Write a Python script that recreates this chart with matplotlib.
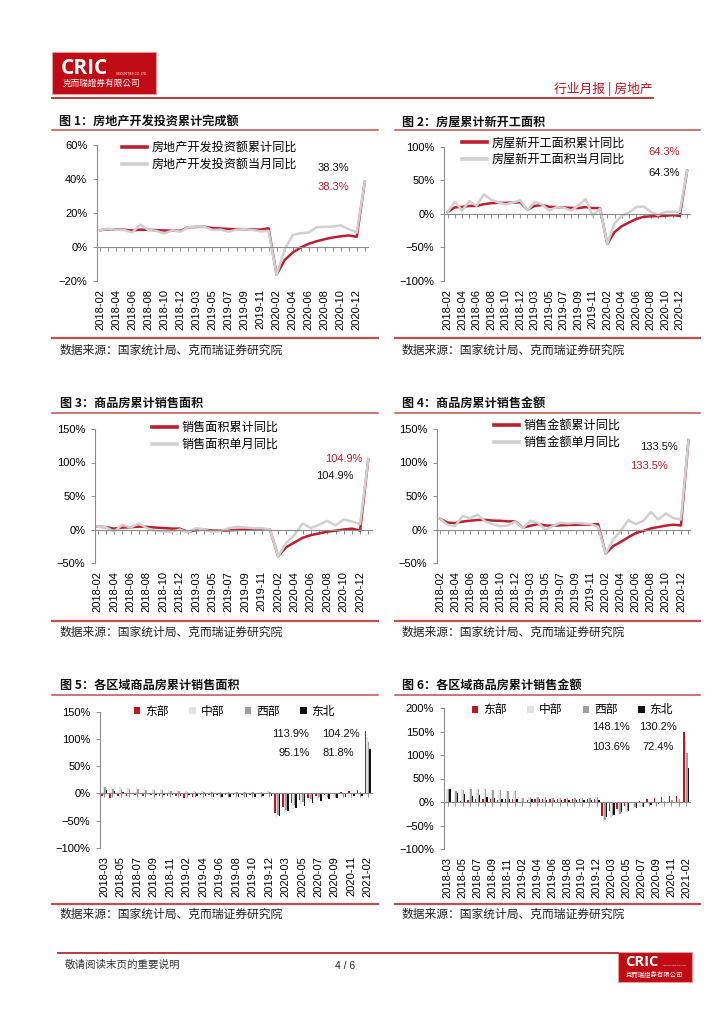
import numpy as np
import matplotlib
matplotlib.use("Agg")
import matplotlib.pyplot as plt
from matplotlib.lines import Line2D
from matplotlib.patches import Rectangle, Patch

plt.rcParams['font.family'] = ['Liberation Sans', 'Noto Sans CJK SC']
plt.rcParams['axes.unicode_minus'] = True

# ---------------- data ----------------
months_a = [f"{y}-{m:02d}" for y in (2018, 2019, 2020) for m in range(2, 13)] + ["2021-02"]
tick_a = [months_a[i] for i in range(0, 33, 2)]          # labels shown
months_b = [f"2018-{m:02d}" for m in range(3, 13)] + \
           [f"{y}-{m:02d}" for y in (2019, 2020) for m in range(2, 13)] + ["2021-02"]

inv_cum = [9.9, 10.4, 10.3, 10.2, 9.7, 10.2, 10.1, 9.9, 9.7, 9.7, 9.5,
           11.6, 11.8, 11.9, 11.2, 10.9, 10.6, 10.5, 10.5, 10.3, 10.2, 11.0,
           -16.3, -7.7, -3.3, -0.3, 1.9, 3.4, 4.6, 5.6, 6.3, 6.8, 6.0,
           38.3]
inv_mon = [9.9, 10.7, 10.1, 10.0, 8.5, 13.2, 10.0, 9.5, 8.0, 9.8, 9.0,
           11.6, 12.0, 11.9, 10.0, 10.2, 9.0, 10.2, 10.5, 10.0, 9.2, 9.5,
           -16.3, -1.5, 7.0, 8.1, 8.5, 11.7, 11.8, 12.0, 12.7, 10.5, 8.5,
           38.3]

ns_cum = [2.9, 9.7, 10.3, 11.8, 11.8, 14.4, 15.9, 16.4, 16.3, 16.8, 17.2,
          6.0, 11.9, 13.1, 10.5, 10.1, 9.5, 8.9, 8.6, 10.0, 8.6, 8.5,
          -44.9, -27.2, -18.4, -12.8, -7.6, -4.5, -3.6, -3.4, -2.8, -2.0, -3.0,
          64.3]
ns_mon = [2.9, 18.0, 5.0, 19.0, 12.0, 29.0, 21.0, 17.0, 14.0, 17.0, 20.0,
          5.0, 18.0, 14.0, 5.0, 10.0, 9.0, 5.0, 12.0, 22.0, -3.0, 8.0,
          -44.9, -14.0, -3.0, 2.0, 10.0, 11.0, 3.0, -2.0, 3.0, 3.0, 3.0,
          64.3]

sa_cum = [4.1, 3.6, 1.3, 2.9, 3.3, 4.2, 4.0, 2.9, 2.2, 1.4, 1.3,
          -3.6, -0.9, -0.3, -1.6, -1.8, -1.3, -0.6, -0.1, 0.1, 0.2, -0.1,
          -39.9, -26.3, -19.3, -12.3, -8.4, -5.8, -3.3, -1.8, 0.0, 1.3, -1.5,
          104.9]
sa_mon = [4.1, 3.3, -3.0, 7.0, 3.0, 9.0, 2.0, -2.0, -3.0, -4.0, 0.0,
          -4.0, 2.0, 0.0, -4.0, -2.0, 2.0, 4.0, 3.0, 2.0, 2.0, 0.0,
          -39.9, -20.0, -8.0, 9.0, 2.0, 7.0, 13.0, 6.0, 15.0, 12.0, 8.0,
          104.9]

sv_cum = [16.0, 10.3, 9.6, 11.8, 13.2, 14.1, 14.5, 13.3, 13.0, 12.1, 12.2,
          2.8, 5.6, 8.1, 6.1, 5.6, 6.2, 6.7, 7.1, 7.3, 7.3, 8.0,
          -35.9, -24.7, -18.6, -11.6, -5.4, -2.1, 1.6, 3.7, 5.8, 7.2, 6.0,
          133.5]
sv_mon = [16.0, 7.0, 5.0, 20.0, 17.0, 22.0, 12.0, 8.0, 5.0, 6.0, 12.0,
          2.0, 13.0, 10.0, 0.0, 5.0, 10.0, 9.0, 10.0, 9.0, 8.0, 4.0,
          -35.9, -15.0, -2.0, 14.0, 8.0, 13.0, 26.0, 15.0, 24.0, 17.0, 15.0,
          133.5]

reg_names = ["东部", "中部", "西部", "东北"]
area_east = [-5, -8, -5, -4, -3, -4, -3, -4, -4, -4,
             -9, -6, -3, -3, -3, -3, -2, -2, -2, -1, -1,
             -35, -25, -18, -12, -8, -5, -2, 1, 2, 5, 6, 113.9]
area_mid = [13, 11, 11, 10, 11, 10, 9, 8, 7, 6,
            4, 4, 4, 4, 3, 3, 3, 3, 3, 3, 4,
            -45, -35, -28, -20, -15, -12, -9, -6, -3, -1, 0, 104.2]
area_west = [12, 9, 9, 8, 8, 7, 6, 6, 5, 4,
             3, 3, 3, 3, 3, 2, 2, 2, 2, 2, 3,
             -40, -30, -22, -15, -10, -6, -4, -2, 0, 1, 2, 95.1]
area_ne = [7, 4, 2, 1, 0, -1, -2, -3, -3, -4,
           -3, -4, -5, -6, -7, -7, -7, -6, -6, -5, -5,
           -42, -33, -26, -23, -18, -14, -10, -8, -6, -5, -4, 81.8]

val_east = [-2, 0, 3, 5, 6, 6, 6, 5, 6, 6,
            -2, 5, 6, 6, 6, 6, 6, 7, 7, 7, 7,
            -30, -20, -14, -8, -2, 3, 6, 8, 10, 12, 13, 148.1]
val_mid = [28, 25, 27, 28, 28, 27, 26, 26, 25, 23,
           8, 10, 10, 10, 9, 9, 9, 9, 9, 9, 10,
           -45, -35, -28, -22, -15, -10, -5, -2, 0, 3, 5, 130.2]
val_west = [28, 24, 26, 28, 28, 28, 26, 25, 24, 23,
            8, 10, 10, 10, 9, 9, 9, 9, 9, 9, 10,
            -38, -30, -25, -17, -10, -5, -2, 1, 3, 5, 7, 103.6]
val_ne = [27, 20, 18, 13, 15, 10, 8, 7, 6, 6,
          0, 6, 6, 5, 5, 5, 5, 5, 5, 5, 5,
          -32, -27, -22, -20, -13, -10, -6, -4, -3, -2, 0, 72.4]

# ---------------- style ----------------
RED = '#BE1E2D'
LGREY = '#D0D0D0'
BAR_COLS = ['#C0141E', '#E3E3E3', '#A0A0A0', '#111111']
AXC = '#8C8C8C'
LINE_RED = '#C0504D'
W, H = 724, 1024

fig = plt.figure(figsize=(7.24, 10.24), dpi=100)


def fx(x):
    return x / W


def fy(y):
    return 1 - y / H


def rect(l, t, r, b):
    return [fx(l), fy(b), (r - l) / W, (b - t) / H]


def hline(x0, x1, y, color, lw):
    fig.add_artist(Line2D([fx(x0), fx(x1)], [fy(y), fy(y)], transform=fig.transFigure,
                          color=color, lw=lw))


def ftext(x, y, s, **kw):
    fig.text(fx(x), fy(y), s, **kw)


def pct(v):
    return f"{v}%".replace('-', '\u2212')


def style_axes(ax, n, labels_idx, labels, ylim, yticks, xlim):
    ax.set_xlim(*xlim)
    ax.set_ylim(*ylim)
    ax.set_yticks(yticks)
    ax.set_yticklabels([pct(v) for v in yticks])
    for s in ('top', 'right'):
        ax.spines[s].set_visible(False)
    ax.spines['left'].set_color(AXC)
    ax.spines['left'].set_linewidth(0.8)
    ax.spines['bottom'].set_position(('data', 0))
    ax.spines['bottom'].set_color(AXC)
    ax.spines['bottom'].set_linewidth(0.8)
    ax.set_xticks(np.arange(n))
    ax.tick_params(axis='x', length=3, color=AXC, width=0.7, labelbottom=False)
    ax.tick_params(axis='y', length=3, color=AXC, width=0.7, labelsize=8, pad=4)
    sec = ax.secondary_xaxis('bottom')
    sec.set_xticks(labels_idx, labels=labels)
    sec.tick_params(length=0, pad=6, labelsize=8, labelrotation=90)
    sec.spines['bottom'].set_visible(False)
    ax.patch.set_alpha(0)


def line_chart(box, cum, mon, names, ylim, yticks, xlim, leg_xy):
    ax = fig.add_axes(rect(*box))
    x = np.arange(len(cum))
    ax.plot(x, cum, color=RED, lw=1.8, solid_joinstyle='round')
    ax.plot(x, mon, color=LGREY, lw=1.8, solid_joinstyle='round')
    style_axes(ax, len(cum), list(range(0, 33, 2)), tick_a, ylim, yticks, xlim)
    handles = [Line2D([], [], color=RED, lw=2.6), Line2D([], [], color=LGREY, lw=2.6)]
    ax.legend(handles, names, loc='center left', bbox_to_anchor=(fx(leg_xy[0]), fy(leg_xy[1])),
              bbox_transform=fig.transFigure, frameon=False,
              handlelength=2.1, handletextpad=0.35, borderpad=0, borderaxespad=0,
              labelspacing=0.3, prop={'family': ['Noto Sans CJK SC'], 'size': 8.7})
    return ax


def bar_chart(box, series, ylim, yticks, xlim, leg_xy, colsp):
    ax = fig.add_axes(rect(*box))
    n = len(series[0])
    x = np.arange(n)
    w = 0.19
    for k, (vals, col) in enumerate(zip(series, BAR_COLS)):
        ax.bar(x + (k - 1.5) * w, vals, w, color=col, linewidth=0, zorder=2)
    style_axes(ax, n, list(range(0, 33, 2)), [months_b[i] for i in range(0, 33, 2)],
               ylim, yticks, xlim)
    handles = [Patch(facecolor=c, edgecolor='none') for c in BAR_COLS]
    ax.legend(handles, reg_names, loc='center left', ncol=4,
              bbox_to_anchor=(fx(leg_xy[0]), fy(leg_xy[1])),
              bbox_transform=fig.transFigure, frameon=False,
              handlelength=0.55, handleheight=0.55, handletextpad=0.4,
              columnspacing=colsp, borderpad=0, borderaxespad=0,
              prop={'family': ['Noto Sans CJK SC'], 'size': 8.5})
    return ax


# ---------------- page header ----------------
fig.add_artist(Rectangle((fx(52), fy(94)), 104 / W, 42 / H, transform=fig.transFigure,
                         facecolor='#C00A14', edgecolor='#E59A9A', lw=0.8))
ftext(61, 68, "CRIC", color='white', fontsize=15, fontweight='bold', family='Open Sans',
      ha='left', va='center')
ftext(116, 73.5, "SECURITIES CO.,LTD", color='white', fontsize=2.2, ha='left', va='center')
ftext(63, 83.5, "克而瑞證券有限公司", color='white', fontsize=6.2, family=['Noto Sans CJK TC'],
      ha='left', va='center')
hline(52, 653, 97.5, '#B8262E', 1.3)
ftext(653, 96, "行业月报 | 房地产", color='#C0141E', fontsize=9.2, ha='right', va='bottom',
      family=['Noto Sans CJK SC', 'DejaVu Sans'])

# ---------------- chart frames ----------------
TITLES = [
    (59, 122, "图 1：房地产开发投资累计完成额"),
    (402, 122, "图 2：房屋累计新开工面积"),
    (60, 403, "图 3：商品房累计销售面积"),
    (402, 403, "图 4：商品房累计销售金额"),
    (60, 685, "图 5：各区域商品房累计销售面积"),
    (402, 685, "图 6：各区域商品房累计销售金额"),
]
for (x, y, s) in TITLES:
    ftext(x, y, s, fontsize=8.7, fontweight='bold', family=['Noto Sans CJK SC'],
          ha='left', va='center', color='#111111')
for yl, yb in ((129.8, 338), (412.8, 621), (695, 903.5)):
    hline(52, 378, yl, LINE_RED, 1.1)
    hline(395, 700, yl, LINE_RED, 1.1)
    hline(52, 378, yb, LINE_RED, 1.6)
    hline(395, 700, yb, LINE_RED, 1.6)
SRC = "数据来源：国家统计局、克而瑞证券研究院"
for (x, y) in ((60, 350), (402, 350), (60, 632), (402, 632), (60, 914), (402, 914)):
    ftext(x, y, SRC, fontsize=8.5, family=['Noto Sans CJK SC'], ha='left', va='center',
          color='#222222')

# ---------------- charts ----------------
line_chart((97, 145, 368, 281), inv_cum, inv_mon,
           ["房地产开发投资额累计同比", "房地产开发投资额当月同比"],
           (-20, 60), [-20, 0, 20, 40, 60], (-0.4, 33.4), (122, 156))
ftext(333, 168, "38.3%", fontsize=8, ha='center', va='center', color='#111111')
ftext(333, 187, "38.3%", fontsize=8, ha='center', va='center', color=RED)

line_chart((444, 146.7, 690, 281), ns_cum, ns_mon,
           ["房屋新开工面积累计同比", "房屋新开工面积当月同比"],
           (-100, 100), [-100, -50, 0, 50, 100], (-0.5, 33.4), (462, 151))
ftext(664, 152, "64.3%", fontsize=8, ha='center', va='center', color=RED)
ftext(664, 173, "64.3%", fontsize=8, ha='center', va='center', color='#111111')

line_chart((95, 429, 372, 563), sa_cum, sa_mon,
           ["销售面积累计同比", "销售面积单月同比"],
           (-50, 150), [-50, 0, 50, 100, 150], (-0.33, 33.45), (152, 436))
ftext(344, 459, "104.9%", fontsize=8, ha='center', va='center', color=RED)
ftext(335, 476, "104.9%", fontsize=8, ha='center', va='center', color='#111111')

line_chart((437, 429, 690, 563), sv_cum, sv_mon,
           ["销售金额累计同比", "销售金额单月同比"],
           (-50, 150), [-50, 0, 50, 100, 150], (-0.4, 33.2), (494, 434))
ftext(659, 447, "133.5%", fontsize=8, ha='center', va='center', color='#111111')
ftext(649, 466, "133.5%", fontsize=8, ha='center', va='center', color=RED)

bar_chart((100, 711.7, 372, 848), [area_east, area_mid, area_west, area_ne],
          (-100, 150), [-100, -50, 0, 50, 100, 150], (-0.5, 32.5), (134, 711), 1.75)
ftext(291, 734, "113.9%", fontsize=8, ha='center', va='center', color='#111111')
ftext(341, 734, "104.2%", fontsize=8, ha='center', va='center', color='#111111')
ftext(294, 753, "95.1%", fontsize=8, ha='center', va='center', color='#111111')
ftext(338, 753, "81.8%", fontsize=8, ha='center', va='center', color='#111111')

bar_chart((444, 708, 690, 849), [val_east, val_mid, val_west, val_ne],
          (-100, 200), [-100, -50, 0, 50, 100, 150, 200], (-0.5, 32.5), (472, 710), 1.75)
ftext(611, 727, "148.1%", fontsize=8, ha='center', va='center', color='#111111')
ftext(658, 727, "130.2%", fontsize=8, ha='center', va='center', color='#111111')
ftext(611, 747, "103.6%", fontsize=8, ha='center', va='center', color='#111111')
ftext(658, 747, "72.4%", fontsize=8, ha='center', va='center', color='#111111')

# ---------------- footer ----------------
hline(58, 618, 952.5, '#B8262E', 1.3)
ftext(65, 965, "敬请阅读末页的重要说明", fontsize=7.6, family=['Noto Sans CJK SC'],
      ha='left', va='center', color='#333333')
ftext(345, 966, "4 / 6", fontsize=7.5, ha='center', va='center', color='#222222')
fig.add_artist(Rectangle((fx(618), fy(982)), 74 / W, 30 / H, transform=fig.transFigure,
                         facecolor='#C00A14', edgecolor='#E59A9A', lw=0.8))
ftext(625, 962, "CRIC", color='white', fontsize=10.5, fontweight='bold', family='Open Sans',
      ha='left', va='center')
ftext(663, 965, "SECURITIES CO.,LTD", color='white', fontsize=1.6, ha='left', va='center')
ftext(626, 975, "克而瑞證券有限公司", color='white', fontsize=4.6, family=['Noto Sans CJK TC'],
      ha='left', va='center')

fig.savefig("out.png", dpi=100)
